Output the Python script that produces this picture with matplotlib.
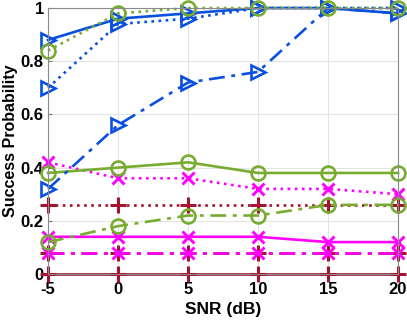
import matplotlib
matplotlib.use("Agg")
import matplotlib.pyplot as plt

snr = [-5, 0, 5, 10, 15, 20]

blue_solid = [0.88, 0.96, 0.98, 1.0, 1.0, 0.98]
blue_dot = [0.70, 0.94, 0.96, 1.0, 1.0, 1.0]
blue_dashdot = [0.32, 0.56, 0.72, 0.76, 1.0, 0.98]

green_solid = [0.38, 0.40, 0.42, 0.38, 0.38, 0.38]
green_dot = [0.84, 0.98, 1.0, 1.0, 1.0, 1.0]
green_dashdot = [0.12, 0.18, 0.22, 0.22, 0.26, 0.26]

mag_solid = [0.14, 0.14, 0.14, 0.14, 0.12, 0.12]
mag_dot = [0.42, 0.36, 0.36, 0.32, 0.32, 0.30]
mag_dashdot = [0.08, 0.08, 0.08, 0.08, 0.08, 0.08]

red_solid = [0, 0, 0, 0, 0, 0]
red_dot = [0.26, 0.26, 0.26, 0.26, 0.26, 0.26]
red_dashdot = [0.08, 0.08, 0.08, 0.08, 0.08, 0.08]

yticks = [0, 0.2, 0.4, 0.6, 0.8, 1]
ytick_labels = ["0", "0.2", "0.4", "0.6", "0.8", "1"]
xtick_labels = ["-5", "0", "5", "10", "15", "20"]

plt.rcParams['font.family'] = ['Liberation Sans', 'DejaVu Sans']
plt.rcParams['font.weight'] = 'bold'

fig = plt.figure(figsize=(4.07, 3.22), dpi=100)
ax = fig.add_axes([0.118, 0.149, 0.860, 0.826])

BLUE = '#0a50e0'
GREEN = '#77ac30'
MAG = '#ff00ff'
RED = '#a2142f'

lw = 1.9
dot = (0, (1, 1.7))
dashdot = (0, (6, 2.5, 1.5, 2.5))

def plot(y, color, ls, marker, ms=9, mew=1.9):
    ax.plot(snr, y, color=color, linestyle=ls, linewidth=lw, marker=marker,
            markersize=ms, markerfacecolor='none', markeredgewidth=mew, clip_on=False)

plot(red_solid, RED, '-', '+', 11, 2.2)
plot(red_dot, RED, dot, '+', 11, 2.2)
plot(red_dashdot, RED, dashdot, '+', 11, 2.2)
plot(mag_solid, MAG, '-', 'x', 8, 2.1)
plot(mag_dot, MAG, dot, 'x', 8, 2.1)
plot(mag_dashdot, MAG, dashdot, 'x', 8, 2.1)
plot(green_solid, GREEN, '-', 'o', 10)
plot(green_dashdot, GREEN, dashdot, 'o', 10)
plot(blue_dot, BLUE, dot, '>', 10)
plot(blue_dashdot, BLUE, dashdot, '>', 10)
plot(blue_solid, BLUE, '-', '>', 10)
plot(green_dot, GREEN, dot, 'o', 10)

ax.set_xlim(-5, 20)
ax.set_ylim(0, 1)
ax.set_xticks(snr)
ax.set_xticklabels(xtick_labels)
ax.set_yticks(yticks)
ax.set_yticklabels(ytick_labels)
ax.tick_params(direction='in', labelsize=12, length=3, color='#777777')
ax.tick_params(axis='x', pad=6)
ax.tick_params(axis='y', pad=3)
for lab in ax.get_xticklabels() + ax.get_yticklabels():
    lab.set_fontweight('bold')
ax.grid(True, color='#e3e3e3', linewidth=0.8)
ax.set_axisbelow(True)
for s in ax.spines.values():
    s.set_color('#8a8a8a')
    s.set_linewidth(0.8)
ax.set_xlabel('SNR (dB)', fontsize=12.5, fontweight='bold', labelpad=3)
ax.set_ylabel('Success Probability', fontsize=11.5, fontweight='bold', labelpad=2)

fig.savefig('out.png', dpi=100)
